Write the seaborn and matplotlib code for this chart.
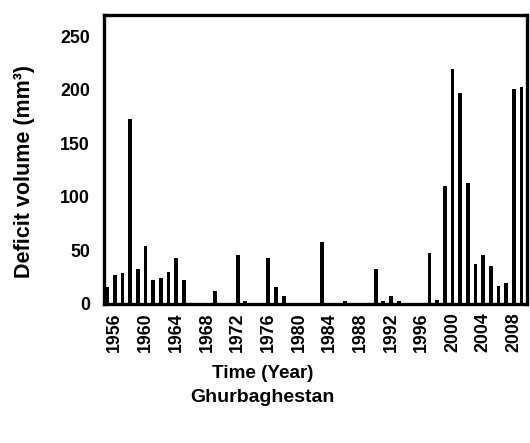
import matplotlib
matplotlib.use("Agg")
import matplotlib.pyplot as plt
import seaborn as sns
import pandas as pd

years = [1955, 1956, 1957, 1958, 1959, 1960, 1961, 1962, 1963, 1964, 1965,
         1969, 1972, 1973, 1976, 1977, 1978, 1983, 1986, 1988, 1990, 1991,
         1992, 1993, 1997, 1998, 1999, 2000, 2001, 2002, 2003, 2004, 2005,
         2006, 2007, 2008, 2009]
deficit = [16, 27, 29, 173, 33, 54, 22, 24, 30, 43, 22,
           12, 46, 3, 43, 16, 7, 58, 3, 1, 33, 3,
           7, 3, 48, 4, 110, 220, 197, 113, 37, 46, 35,
           17, 20, 201, 203]
tick_years = list(range(1956, 2009, 4))
station = "Ghurbaghestan"

df = pd.DataFrame({"year": years, "deficit": deficit})

sns.set_theme(style="white")
plt.rcParams["font.family"] = ["Liberation Sans", "DejaVu Sans"]
plt.rcParams["font.weight"] = "bold"
plt.rcParams["text.color"] = "black"
plt.rcParams["axes.labelcolor"] = "black"
plt.rcParams["xtick.color"] = "black"
plt.rcParams["ytick.color"] = "black"

fig = plt.figure(figsize=(5.30, 4.43), dpi=100)
ax = fig.add_axes([0.196, 0.314, 0.798, 0.652])

sns.barplot(data=df, x="year", y="deficit", native_scale=True, color="black",
            width=0.5, saturation=1, edgecolor="black", linewidth=0, ax=ax)

ax.set_xlim(1954.57, 2009.69)
ax.set_ylim(0, 270)
ax.set_xticks(tick_years)
ax.set_xticklabels([str(t) for t in tick_years], rotation=90, fontsize=12.8,
                   fontweight="bold", color="black")
ax.set_yticks([0, 50, 100, 150, 200, 250])
ax.set_yticklabels(["0", "50", "100", "150", "200", "250"], fontsize=12.8,
                   fontweight="bold", color="black")
ax.tick_params(axis="x", length=0, pad=6, colors="black")
ax.tick_params(axis="y", length=0, pad=10, colors="black")

for s in ax.spines.values():
    s.set_visible(True)
    s.set_color("black")
    s.set_linewidth(2.4)

ax.set_xlabel("Time (Year)", fontsize=13.6, fontweight="bold", color="black")
ax.xaxis.set_label_coords(0.376, -0.211)
ax.set_ylabel("Deficit volume (mm³)", fontsize=15.5, fontweight="bold",
              color="black")
ax.yaxis.set_label_coords(-0.164, 0.46)
fig.text(0.496, 1 - 397 / 443, station, ha="center", va="center",
         fontsize=14, fontweight="bold", color="black")

fig.savefig("out.png", dpi=100)
